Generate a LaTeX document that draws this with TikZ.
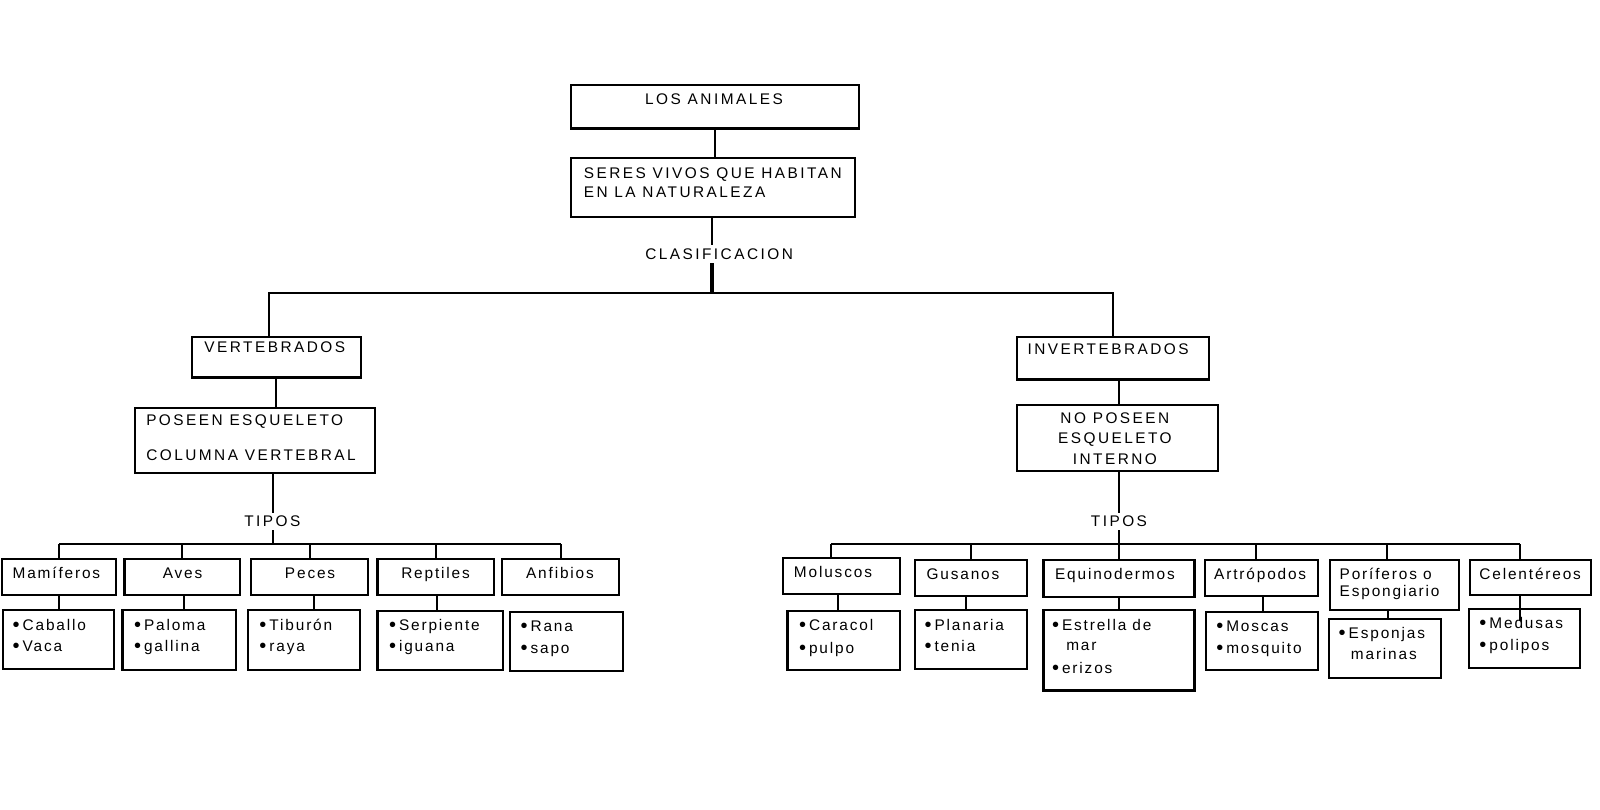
\documentclass[tikz,border=0pt]{standalone}
\usepackage{fontspec}
\setmainfont{Liberation Sans}[LetterSpace=12]
\usetikzlibrary{fit}
\newcounter{tn}
\newcommand\tl[3]{\stepcounter{tn}\node[txt,anchor=base west] (t\arabic{tn}) at (#1,#2+5) {#3};}
\newcommand\tc[3]{\stepcounter{tn}\node[txt,anchor=base] (t\arabic{tn}) at (#1,#2+5) {#3};}
\newcommand\bx[5]{\node[box,fit={(#2,#3)(#4,#5)}] (#1) {};}
\newcommand\drop[3]{\draw[conn] ([xshift=#3]#1.north) -- ([xshift=#3]#1.north |- #2);}
\newcommand\link[4]{\draw[conn] ([xshift=#3]#1.south) -- ([xshift=#3]#1.south |- #2.north) -- ++(0,#4);}
\newcommand\bul{\raisebox{-0.4pt}{\fontsize{10}{10}\selectfont •}\hspace{1.5pt}}
\newcommand\cp{\addfontfeature{LetterSpace=16}}
\begin{document}
\begin{tikzpicture}[x=0.51pt,y=-0.51pt,
  box/.style={draw,line width=1.1pt,inner sep=0pt},
  txt/.style={inner sep=0pt,font=\fontsize{7.7}{9}\selectfont},
  lbl/.style={txt,fill=white,inner xsep=1pt,inner ysep=1.6pt},
  conn/.style={line width=1pt}]
\fill[white] (0,0) rectangle (1568.6,794.1);
\useasboundingbox (0,0) rectangle (1568.6,794.1);

% top
\bx{root}{560}{83}{842}{126}
\bx{seres}{560}{155}{838}{213}
\bx{vert}{188}{330}{354}{370}
\bx{pos}{132}{400}{368}{464}
\bx{inv}{997}{330}{1185}{372}
\bx{nop}{997}{397}{1194}{462}

% left categories
\bx{mam}{2}{548}{114}{583}
\bx{aves}{122}{548}{235}{583}
\bx{peces}{246}{548}{361}{583}
\bx{rept}{370}{548}{484}{583}
\bx{anf}{492}{548}{607}{583}
\bx{mamI}{3}{598}{112}{656}
\bx{avesI}{120}{598}{231}{657}
\bx{pecesI}{243}{598}{353}{657}
\bx{reptI}{370}{599}{493}{657}
\bx{anfI}{500}{600}{611}{658}

% right categories
\bx{mol}{768}{547}{882}{582}
\bx{gus}{897}{549}{1007}{584}
\bx{equ}{1023}{549}{1171}{585}
\bx{art}{1181}{549}{1292}{584}
\bx{por}{1304}{549}{1430}{598}
\bx{cel}{1441}{549}{1560}{583}
\bx{molI}{772}{599}{882}{657}
\bx{gusI}{897}{598}{1007}{656}
\bx{equI}{1023}{598}{1171}{677}
\bx{artI}{1182}{600}{1292}{657}
\bx{porI}{1303}{607}{1413}{665}
\bx{celI}{1440}{597}{1549}{655}

% connectors
\coordinate (cb) at (698,287);
\coordinate (bl) at (264,287);
\coordinate (br) at (1091,287);
\coordinate (tlb) at (268,533);
\coordinate (trb) at (1097,533);
\draw[conn] (root.south) -- (root.south |- seres.north);
\draw[conn] (seres.south -| cb) -- (cb);
\draw[line width=1.6pt] (cb) -- ++(0,-29);
\draw[conn] (vert.north -| bl) -- (bl) -- (br) -- (br |- inv.north);
\draw[conn] (vert.south) -- (vert.south |- pos.north);
\draw[conn] (pos.south -| tlb) -- (tlb);
\draw[conn] (inv.south -| trb) -- (trb |- nop.north);
\draw[conn] (nop.south -| trb) -- (trb);

\draw[conn] (mam.north |- tlb) -- (anf.north |- tlb);
\foreach \n in {mam,aves,peces,rept,anf} {\drop{\n}{tlb}{0pt}}
\link{mam}{mamI}{0pt}{0}
\link{aves}{avesI}{1pt}{0}
\link{peces}{pecesI}{2pt}{0}
\link{rept}{reptI}{0.5pt}{0}

\draw[conn] ([xshift=-5.2pt]mol.north |- trb) -- ([xshift=-5.5pt]cel.north |- trb);
\drop{mol}{trb}{-5.2pt}
\drop{gus}{trb}{0pt}
\drop{equ}{trb}{0pt}
\drop{art}{trb}{-2.8pt}
\drop{por}{trb}{-3.9pt}
\drop{cel}{trb}{-5.5pt}
\link{mol}{molI}{-1.8pt}{0}
\link{gus}{gusI}{-2.6pt}{0}
\link{equ}{equI}{0pt}{0}
\link{art}{artI}{1pt}{0}
\link{por}{porI}{-3.2pt}{0}
\link{cel}{celI}{-5.5pt}{13}

% labels on connectors
\node[lbl] (cla) at (705,249) {\cp CLASIFICACION};
\node[lbl] (tipL) at (267,511) {\cp TIPOS};
\node[lbl] (tipR) at (1097,511) {\cp TIPOS};

% texts
\tc{700}{97}{\cp LOS ANIMALES}
\tl{572}{170}{\cp SERES VIVOS QUE HABITAN}
\tl{572}{189}{\cp EN LA NATURALEZA}
\tl{200}{341}{\cp VERTEBRADOS}
\tl{143}{412}{\cp POSEEN ESQUELETO}
\tl{143}{446}{\cp COLUMNA VERTEBRAL}
\tl{1007}{343}{\cp INVERTEBRADOS}
\tc{1093}{410}{\cp NO POSEEN}
\tc{1093}{430}{\cp ESQUELETO}
\tc{1093}{450}{\cp INTERNO}

\tl{12}{562}{Mamíferos}
\tc{179}{562}{Aves}
\tc{304}{562}{Peces}
\tc{427}{562}{Reptiles}
\tc{549}{562}{Anfibios}
\tl{12}{613}{\bul Caballo}
\tl{12}{634}{\bul Vaca}
\tl{131}{613}{\bul Paloma}
\tl{131}{634}{\bul gallina}
\tl{254}{613}{\bul Tiburón}
\tl{254}{634}{\bul raya}
\tl{381}{613}{\bul Serpiente}
\tl{381}{634}{\bul iguana}
\tl{510}{614}{\bul Rana}
\tl{510}{636}{\bul sapo}

\tl{778}{561}{Moluscos}
\tl{908}{563}{Gusanos}
\tl{1034}{563}{Equinodermos}
\tl{1190}{563}{Artrópodos}
\tl{1313}{563}{Poríferos o}
\tl{1313}{580}{Espongiario}
\tl{1450}{563}{Celentéreos}
\tl{783}{613}{\bul Caracol}
\tl{783}{636}{\bul pulpo}
\tl{906}{613}{\bul Planaria}
\tl{906}{634}{\bul tenia}
\tl{1031}{613}{\bul Estrella de}
\tl{1045}{633}{mar}
\tl{1031}{655}{\bul erizos}
\tl{1192}{614}{\bul Moscas}
\tl{1192}{636}{\bul mosquito}
\tl{1312}{621}{\bul Esponjas}
\tl{1324}{642}{marinas}
\tl{1450}{611}{\bul Medusas}
\tl{1450}{633}{\bul polipos}
\end{tikzpicture}
\end{document}
